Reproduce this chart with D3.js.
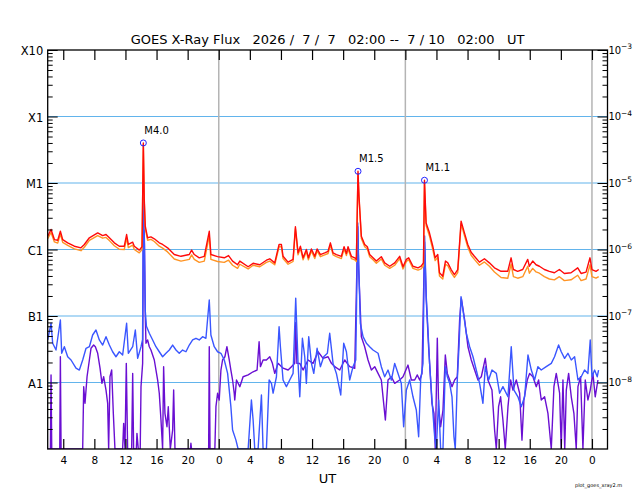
<!DOCTYPE html>
<html><head><meta charset="utf-8">
<script src="https://cdn.jsdelivr.net/npm/d3@7"></script>
<style>
body{margin:0;background:#fff}
svg{display:block}
text{font-family:"DejaVu Sans",Verdana,sans-serif;fill:#000}
</style>
</head><body>
<svg id="chart" width="640" height="500"></svg>
<script>
// ---------- data (hours after 2026-07-07 02:00 UT) ----------
const startUTC = Date.UTC(2026, 6, 7, 2);
const endUTC = Date.UTC(2026, 6, 10, 2);

const longHours = [0,0.43,0.86,1.29,1.63,1.93,2.57,3.43,4.28,4.71,5.36,6.43,7.07,7.5,7.93,8.57,9.21,9.85,10.15,10.37,10.93,11.14,11.78,12.13,12.3,12.42,12.55,12.85,13.28,13.71,14.35,14.78,15.42,16.28,17.14,18.21,18.51,18.85,19.49,20.14,20.78,20.99,21.85,22.71,23.26,23.78,24.42,24.71,25.78,26.42,27.28,28.13,28.56,29.2,29.76,30.06,30.27,30.92,31.56,31.86,32.2,32.5,32.85,33.27,33.53,33.92,34.35,34.65,35.07,35.63,36.06,36.36,36.7,37.13,37.77,38.12,38.42,38.63,39.06,39.49,39.7,39.91,40.04,40.34,40.77,41.11,41.41,41.84,42.27,42.91,43.34,43.99,44.63,45.27,45.7,46.13,46.43,46.98,47.63,48.03,48.33,48.46,48.67,49.1,49.53,49.83,50.17,50.39,50.81,51.16,51.46,51.89,52.31,52.74,53.17,53.6,54.03,54.46,54.88,55.53,56.17,56.81,57.46,58.31,59.17,59.6,59.9,60.45,61.1,61.74,61.95,62.38,62.81,63.24,63.88,64.52,65.17,65.81,66.45,67.31,68.17,68.6,69.24,69.75,70.0,70.52,70.87];
const longPrimary = [1.58e-6,2.0e-6,1.41e-6,1.38e-6,1.88e-6,1.41e-6,1.26e-6,1.12e-6,1.06e-6,1.19e-6,1.5e-6,1.78e-6,1.62e-6,1.68e-6,1.5e-6,1.26e-6,1.12e-6,1.12e-6,1.68e-6,1.19e-6,1.29e-6,1.12e-6,9.8e-7,1.1e-6,4.0e-5,5.65e-6,2.24e-6,1.5e-6,1.55e-6,1.45e-6,1.26e-6,1.19e-6,1.06e-6,8.4e-7,7.9e-7,8.4e-7,9.8e-7,8.4e-7,7.5e-7,7.9e-7,1.88e-6,8.4e-7,7.8e-7,7.5e-7,8.1e-7,6.7e-7,5.9e-7,6.7e-7,5.5e-7,6.2e-7,5.9e-7,6.9e-7,7.25e-7,6.3e-7,1.19e-6,1.19e-6,7.9e-7,6.45e-7,7.1e-7,2.2e-6,8.9e-7,1.12e-6,7.5e-7,1.0e-6,7.5e-7,1.02e-6,7.9e-7,1.02e-6,8.4e-7,8.9e-7,9.4e-7,1.26e-6,8.9e-7,8.4e-7,7.9e-7,1.1e-6,8.7e-7,1.1e-6,7.9e-7,7.5e-7,7.1e-7,1.5e-5,6.3e-6,1.58e-6,1.19e-6,1.1e-6,8.4e-7,7.5e-7,6.7e-7,7.8e-7,6.3e-7,5.6e-7,6.3e-7,7.9e-7,5.5e-7,7.1e-7,7.5e-7,5.6e-7,5.3e-7,5.6e-7,6.3e-7,1.1e-5,2.5e-6,1.78e-6,1.12e-6,7.5e-7,8.4e-7,4.47e-7,3.97e-7,6.7e-7,6.3e-7,5.0e-7,4.2e-7,5.0e-7,2.67e-6,1.78e-6,1.19e-6,9.1e-7,7.9e-7,6.45e-7,7.25e-7,6.3e-7,5.3e-7,4.7e-7,4.7e-7,7.5e-7,5.0e-7,4.7e-7,5.0e-7,7.1e-7,5.6e-7,6.7e-7,5.9e-7,5.6e-7,5.0e-7,4.7e-7,4.47e-7,5.0e-7,4.36e-7,4.47e-7,5.3e-7,4.36e-7,4.56e-7,7.5e-7,5.0e-7,4.7e-7,5.0e-7];
const longSecondary = [1.45e-6,1.8e-6,1.3e-6,1.25e-6,1.7e-6,1.28e-6,1.15e-6,1.02e-6,9.6e-7,1.08e-6,1.37e-6,1.62e-6,1.48e-6,1.52e-6,1.36e-6,1.14e-6,1.01e-6,1.0e-6,1.5e-6,1.07e-6,1.16e-6,1.0e-6,8.9e-7,1.0e-6,3.8e-5,5.2e-6,2.05e-6,1.38e-6,1.42e-6,1.32e-6,1.12e-6,1.05e-6,9.2e-7,7.2e-7,6.7e-7,7.1e-7,8.3e-7,7.1e-7,6.4e-7,6.7e-7,1.6e-6,7.1e-7,6.6e-7,6.4e-7,6.9e-7,5.8e-7,5.2e-7,6.0e-7,5.1e-7,5.8e-7,5.5e-7,6.4e-7,6.7e-7,5.9e-7,1.1e-6,1.1e-6,7.3e-7,6.0e-7,6.6e-7,2.05e-6,8.3e-7,1.04e-6,7.0e-7,9.3e-7,7.0e-7,9.5e-7,7.3e-7,9.5e-7,7.8e-7,8.3e-7,8.7e-7,1.17e-6,8.3e-7,7.8e-7,7.3e-7,1.02e-6,8.1e-7,1.02e-6,7.3e-7,7.0e-7,6.6e-7,1.4e-5,5.9e-6,1.47e-6,1.1e-6,1.02e-6,7.8e-7,7.0e-7,6.2e-7,7.2e-7,5.8e-7,5.2e-7,5.8e-7,7.3e-7,5.1e-7,6.6e-7,7.0e-7,5.2e-7,4.9e-7,5.1e-7,5.7e-7,1.0e-5,2.3e-6,1.6e-6,1.0e-6,6.8e-7,7.6e-7,4.0e-7,3.6e-7,6.0e-7,5.7e-7,4.5e-7,3.8e-7,4.5e-7,2.45e-6,1.62e-6,1.08e-6,8.2e-7,7.1e-7,5.8e-7,6.5e-7,5.6e-7,4.6e-7,3.8e-7,3.7e-7,6.0e-7,3.9e-7,3.7e-7,3.9e-7,5.6e-7,4.4e-7,5.2e-7,4.6e-7,4.4e-7,3.9e-7,3.6e-7,3.5e-7,3.9e-7,3.4e-7,3.5e-7,4.1e-7,3.4e-7,3.6e-7,5.9e-7,3.9e-7,3.7e-7,3.9e-7];

const shortAHours = [0,0.43,0.64,1.07,1.63,1.8,2.14,2.57,3.0,3.64,4.07,4.5,4.93,5.36,5.78,6.21,6.64,7.07,7.5,7.93,8.35,8.78,9.21,9.64,10.15,10.37,10.93,11.27,11.57,12.0,12.2,12.3,12.42,12.55,12.7,13.07,13.5,13.92,14.35,14.78,15.21,15.64,16.07,16.5,16.92,17.35,17.78,18.21,18.64,19.07,19.49,19.92,20.35,20.78,20.99,21.42,21.85,22.28,22.71,23.14,23.56,23.78,24.21,24.49,25.13,25.78,26.2,26.42,26.63,27.06,27.49,27.7,28.13,28.48,28.78,28.99,29.42,29.76,29.93,30.27,30.7,31.13,31.56,31.9,32.2,32.42,32.76,33.06,33.27,33.57,33.92,34.22,34.65,35.07,35.5,35.97,36.27,36.7,37.13,37.69,38.07,38.42,38.84,39.27,39.62,39.88,40.0,40.21,40.56,40.99,41.41,41.84,42.49,42.91,43.34,43.77,44.2,44.63,45.06,45.48,45.78,46.13,46.56,46.98,47.41,47.71,47.97,48.27,48.48,48.69,48.91,49.12,49.34,49.55,49.77,49.98,50.28,50.54,50.84,51.14,51.4,51.7,52.0,52.25,52.42,52.68,52.9,53.16,53.41,53.84,54.27,54.7,55.12,55.55,55.98,56.28,56.71,57.14,57.7,58.12,58.55,59.2,59.62,59.97,60.48,60.91,61.34,61.77,62.2,62.62,63.05,63.48,64.12,64.77,65.19,65.71,66.05,66.48,66.91,67.34,67.77,68.2,68.62,69.05,69.48,69.78,70.0,70.34,70.68,70.85];
const shortPrimary = [4.36e-8,7.77e-8,3.89e-8,3.08e-8,8.7e-8,2.75e-8,3.45e-8,2.44e-8,2.18e-8,1.64e-8,1.54e-8,2.18e-8,3.27e-8,3.45e-8,5.18e-8,6.16e-8,4.36e-8,3.66e-8,4.89e-8,3.66e-8,2.9e-8,2.44e-8,2.9e-8,2.59e-8,7.77e-8,2.75e-8,3.45e-8,6.16e-8,2.31e-8,3.45e-8,4.4e-8,6.0e-6,1.5e-6,1.2e-7,7.0e-8,5.5e-8,4.36e-8,3.45e-8,2.9e-8,2.44e-8,2.75e-8,3.08e-8,3.66e-8,3.08e-8,2.75e-8,3.08e-8,2.9e-8,3.66e-8,4.36e-8,4.62e-8,4.36e-8,4.89e-8,4.62e-8,1.74e-7,5.18e-8,3.45e-8,2.9e-8,2.75e-8,2.18e-8,1.37e-8,4.33e-9,1.93e-9,1.36e-9,1e-9,1e-9,1e-9,5.46e-9,2.73e-9,1e-9,1e-9,6.49e-9,1e-9,1e-9,1.09e-8,9.7e-9,6.9e-9,1.22e-8,6.9e-8,3.45e-8,1.09e-8,8.65e-9,1.09e-8,1.37e-8,1.85e-7,1.94e-8,6.1e-9,4.62e-8,2.44e-8,9.7e-9,4.89e-8,1.94e-8,1.37e-8,3.27e-8,1.73e-8,2.44e-8,2.75e-8,5.5e-8,1.94e-8,1.37e-8,6.49e-9,3.89e-8,2.9e-8,1.09e-8,1.73e-8,2.18e-8,2.5e-6,6.0e-7,7.77e-8,4.89e-8,3.89e-8,3.45e-8,3.08e-8,2.75e-8,1.73e-8,1.22e-8,1.54e-8,1.09e-8,1.94e-8,1.37e-8,9.7e-9,2.16e-9,7.7e-9,1.09e-8,6.1e-9,3.86e-9,1.53e-9,1.09e-8,1.94e-8,1.6e-6,1.95e-7,6.16e-8,1.94e-8,7.7e-9,3.44e-9,1.53e-9,1e-9,5.46e-9,1e-9,1e-9,1.73e-8,1.22e-8,9.7e-9,6.1e-9,1.53e-9,1e-9,1.09e-8,3.45e-8,1.95e-7,1.23e-7,5.5e-8,3.45e-8,2.44e-8,1.54e-8,9.7e-9,4.87e-9,1.73e-8,1.09e-8,1.54e-8,1.37e-8,6.9e-9,8.65e-9,6.1e-9,3.45e-8,7.7e-9,6.1e-9,4.33e-9,6.1e-9,2.59e-8,1.54e-8,1.09e-8,1.73e-8,1.54e-8,1.73e-8,1.94e-8,2.44e-8,3.66e-8,2.9e-8,2.31e-8,2.75e-8,2.18e-8,2.44e-8,1.09e-8,1.22e-8,1.54e-8,1.37e-8,4.36e-8,1.22e-8,1.54e-8,1.22e-8,1.54e-8];

const shortBHours = [0,0.35,0.43,0.52,1.55,1.63,1.72,4.5,4.63,4.8,5.06,5.36,5.57,5.91,6.13,6.43,6.73,6.98,7.2,7.5,7.71,7.84,8.01,8.23,8.44,8.65,9.64,9.77,9.94,10.11,10.28,10.8,10.93,11.05,11.4,11.48,11.65,11.9,12.0,12.21,12.32,12.45,12.55,12.64,12.85,13.07,13.28,13.71,14.14,14.35,14.57,14.78,14.91,15.08,15.34,15.51,15.77,16.07,16.2,16.37,18.35,18.42,18.5,20.7,20.78,20.88,21.5,21.64,21.85,22.06,22.28,22.49,22.79,23.05,23.35,23.56,23.78,23.99,24.06,24.28,24.71,25.13,25.78,26.42,26.93,27.19,27.36,27.7,28.13,28.56,28.9,29.2,29.63,30.27,30.92,31.35,31.77,31.9,32.05,32.42,32.85,33.49,34.13,34.77,35.42,36.06,36.49,36.92,37.56,38.2,38.84,39.49,39.88,40.0,40.34,40.77,41.2,41.63,42.06,42.49,42.91,43.43,43.77,44.2,44.63,45.27,45.7,46.34,46.77,47.2,47.54,47.84,48.14,48.47,48.69,48.99,49.25,49.42,49.68,49.85,50.11,50.28,50.54,50.84,51.14,51.4,51.7,52.0,52.34,52.68,52.98,53.2,53.63,54.05,54.48,54.91,55.34,55.77,56.28,56.62,57.14,57.48,57.7,57.99,58.25,58.55,58.85,59.2,59.54,59.84,60.27,60.7,61.0,61.25,61.68,61.98,62.41,62.84,63.14,63.48,63.91,64.34,64.77,65.11,65.41,65.84,66.05,66.27,66.5,66.7,67.0,67.34,67.68,67.98,68.2,68.54,68.84,69.14,69.48,69.78,70.12,70.42,70.77];
const shortSecondary = [1e-9,1e-9,1.3e-8,1e-9,1e-9,2.44e-8,1e-9,1e-9,8.65e-9,4.87e-9,1.22e-8,2.18e-8,3.27e-8,3.66e-8,3.45e-8,2.75e-8,1.64e-8,9.7e-9,1.22e-8,7.7e-9,4.87e-9,1e-9,1.22e-8,1.54e-8,3.44e-9,1e-9,1e-9,2.43e-9,1e-9,1.94e-8,1e-9,1e-9,1.37e-8,1e-9,1e-9,1.72e-9,1e-9,1e-9,8.65e-9,1.94e-8,4.5e-6,1.2e-6,1.0e-7,3.89e-8,4.36e-8,3.45e-8,3.08e-8,2.18e-8,1.09e-8,6.9e-9,2.73e-9,1e-9,1.73e-8,3.44e-9,2.16e-9,4.33e-9,1e-9,1.93e-9,7.7e-9,1e-9,1e-9,1.22e-9,1e-9,1e-9,3.45e-8,1e-9,1e-9,4.33e-9,6.9e-9,5.46e-9,1.54e-8,2.18e-8,2.44e-8,3.45e-8,2.18e-8,1.54e-8,1.09e-8,6.9e-9,5.46e-9,1.09e-8,8.65e-9,1.22e-8,1.3e-8,1.45e-8,1.54e-8,4.11e-8,1.73e-8,2.18e-8,2.18e-8,2.44e-8,1.94e-8,1.37e-8,1.94e-8,1.64e-8,1.54e-8,1.73e-8,1.94e-8,8.0e-8,1.94e-8,1.94e-8,1.54e-8,2.18e-8,1.94e-8,2.9e-8,2.31e-8,2.44e-8,1.94e-8,1.73e-8,1.54e-8,2.18e-8,1.73e-8,1.64e-8,2.2e-6,5.0e-7,4.89e-8,3.45e-8,2.18e-8,1.54e-8,1.73e-8,1.37e-8,1.09e-8,2.73e-9,1.09e-8,1.22e-8,9.7e-9,1.09e-8,1.22e-8,1.83e-8,1.09e-8,1.09e-8,1.3e-8,1.09e-8,1.37e-8,1.3e-6,1.74e-7,3.45e-8,1.09e-8,4.87e-9,3.44e-9,1e-9,4.62e-8,4.33e-9,2.16e-9,3.86e-9,2.59e-8,1.37e-8,1.09e-8,8.65e-9,1.09e-8,1.22e-8,8.7e-8,1.85e-7,8.7e-8,3.45e-8,2.18e-8,1.54e-8,1.09e-8,1.22e-8,2.31e-8,1.09e-8,7.7e-9,1.93e-9,1e-9,4.33e-9,6.1e-9,2.73e-9,1e-9,4.33e-9,1.09e-8,7.7e-9,1.09e-8,6.9e-9,1.36e-9,5.46e-9,1.09e-8,1.37e-8,1.22e-8,8.65e-9,1.09e-8,5.46e-9,6.1e-9,3.44e-9,1e-9,8.65e-9,1.37e-8,6.9e-9,1e-9,1.09e-8,1e-9,7.7e-9,1.37e-8,6.1e-9,3.44e-9,1e-9,8.65e-9,1.22e-8,1e-9,1.09e-8,5.46e-9,7.7e-9,1.37e-8,6.1e-9,1.09e-8];

const flareHours = [12.3, 39.91, 48.46];
const flareFlux = [4.0e-5, 1.5e-5, 1.1e-5];
const flareLabels = ["M4.0", "M1.5", "M1.1"];

const classValues = [1e-8, 1e-7, 1e-6, 1e-5, 1e-4, 1e-3];
const classLabels = ["A1", "B1", "C1", "M1", "X1", "X10"];
const expLabels = ["\u22128", "\u22127", "\u22126", "\u22125", "\u22124", "\u22123"];
const gridValues = [1e-8, 1e-7, 1e-6, 1e-5, 1e-4];

const titleText = "GOES X-Ray Flux   2026 /  7 /  7   02:00 --  7 / 10   02:00   UT";

// ---------- layout ----------
const L = 47.7, R = 607.5, T = 50, B = 449;
const svg = d3.select("#chart");

const x = d3.scaleUtc().domain([new Date(startUTC), new Date(endUTC)]).range([L, R]);
const y = d3.scaleLog().domain([1e-9, 1e-3]).range([B, T]).clamp(true);
const toDate = h => new Date(startUTC + h * 3600e3);

const defs = svg.append("defs");
defs.append("clipPath").attr("id", "plotclip").append("rect")
  .attr("x", L).attr("y", T).attr("width", R - L).attr("height", B - T);

// grid lines
svg.append("g").selectAll("line").data(gridValues).join("line")
  .attr("x1", L).attr("x2", R)
  .attr("y1", d => y(d)).attr("y2", d => y(d))
  .attr("stroke", "#62b4ec").attr("stroke-width", 1.2);

// day lines
const days = d3.utcDay.range(new Date(startUTC), new Date(endUTC));
svg.append("g").selectAll("line").data(days).join("line")
  .attr("x1", d => x(d)).attr("x2", d => x(d))
  .attr("y1", T).attr("y2", B)
  .attr("stroke", "#b4b4b4").attr("stroke-width", 1.5);

// data lines
const plot = svg.append("g").attr("clip-path", "url(#plotclip)");
function series(hours, vals) { return hours.map((h, i) => [toDate(h), vals[i]]); }
const line = d3.line().x(d => x(d[0])).y(d => y(d[1]));
const seriesList = [
  {h: shortBHours, v: shortSecondary, c: "#6a0fd2"},
  {h: shortAHours, v: shortPrimary, c: "#3a56ff"},
  {h: longHours, v: longSecondary, c: "#ff9424"},
  {h: longHours, v: longPrimary, c: "#ff0a0a"}
];
seriesList.forEach(s => {
  plot.append("path").datum(series(s.h, s.v))
    .attr("d", line).attr("fill", "none")
    .attr("stroke", s.c).attr("stroke-width", 1.4)
    .attr("stroke-linejoin", "round");
});

// axes
const xTicks = d3.utcHour.every(4);
svg.append("g").attr("transform", `translate(0,${T})`)
  .call(d3.axisTop(x).ticks(xTicks).tickSize(-10).tickSizeOuter(0).tickFormat(""))
  .call(g => g.select(".domain").remove())
  .selectAll("line").attr("stroke", "#000").attr("stroke-width", 1.2);

const gb = svg.append("g").attr("transform", `translate(0,${B})`)
  .call(d3.axisBottom(x).ticks(xTicks).tickSize(-10).tickSizeOuter(0).tickPadding(8)
    .tickFormat(d3.utcFormat("%-H")));
gb.select(".domain").remove();
gb.selectAll("line").attr("stroke", "#000").attr("stroke-width", 1.2);
gb.selectAll("text").attr("font-size", 10.5).attr("font-family", "DejaVu Sans");

const minor = [];
for (let e = -9; e < -3; e++) for (let m = 2; m <= 9; m++) minor.push(m * Math.pow(10, e));

const gl = svg.append("g").attr("transform", `translate(${L},0)`)
  .call(d3.axisLeft(y).tickValues(minor).tickSize(-5).tickFormat("").tickSizeOuter(0));
gl.select(".domain").remove();
gl.selectAll("line").attr("stroke", "#000");
const gl2 = svg.append("g").attr("transform", `translate(${L},0)`)
  .call(d3.axisLeft(y).tickValues(classValues).tickSize(-10).tickPadding(4.5)
    .tickFormat((d, i) => classLabels[i]).tickSizeOuter(0));
gl2.select(".domain").remove();
gl2.selectAll("line").attr("stroke", "#000");
gl2.selectAll("text").attr("font-size", 11.5).attr("font-family", "DejaVu Sans").attr("dy", "0.4em");

const gr = svg.append("g").attr("transform", `translate(${R},0)`)
  .call(d3.axisRight(y).tickValues(minor).tickSize(-5).tickFormat("").tickSizeOuter(0));
gr.select(".domain").remove();
gr.selectAll("line").attr("stroke", "#000");
const gr2 = svg.append("g").attr("transform", `translate(${R},0)`)
  .call(d3.axisRight(y).tickValues(classValues).tickSize(-10).tickFormat("").tickSizeOuter(0));
gr2.select(".domain").remove();
gr2.selectAll("line").attr("stroke", "#000");

// right exponent labels
const rl = svg.append("g").selectAll("g").data(classValues).join("g");
rl.append("text").attr("x", R + 1).attr("y", d => y(d) + 3.6)
  .attr("font-size", 10).text("10");
rl.append("text").attr("x", R + 13.5).attr("y", d => y(d) - 1)
  .attr("font-size", 7.5).text((d, i) => expLabels[i]);

// frame
svg.append("rect").attr("x", L).attr("y", T).attr("width", R - L).attr("height", B - T)
  .attr("fill", "none").attr("stroke", "#000").attr("stroke-width", 1.3);

// flare markers
const fl = svg.append("g").selectAll("g").data(flareHours).join("g");
fl.append("circle").attr("cx", d => x(toDate(d))).attr("cy", (d, i) => y(flareFlux[i]))
  .attr("r", 3).attr("fill", "none").attr("stroke", "#2424ff").attr("stroke-width", 1);
fl.append("text").attr("x", d => x(toDate(d)) + 1).attr("y", (d, i) => y(flareFlux[i]) - 9)
  .attr("font-size", 10).text((d, i) => flareLabels[i]);

// titles
svg.append("text").attr("x", (L + R) / 2).attr("y", 44.3).attr("text-anchor", "middle")
  .attr("font-size", 13).attr("xml:space", "preserve").style("white-space", "pre")
  .text(titleText);
svg.append("text").attr("x", (L + R) / 2).attr("y", 483.3).attr("text-anchor", "middle")
  .attr("font-size", 13).text("UT");
svg.append("text").attr("x", 575).attr("y", 486.5)
  .attr("font-size", 5).text("plot_goes_xray2.m");
</script>
</body></html>
